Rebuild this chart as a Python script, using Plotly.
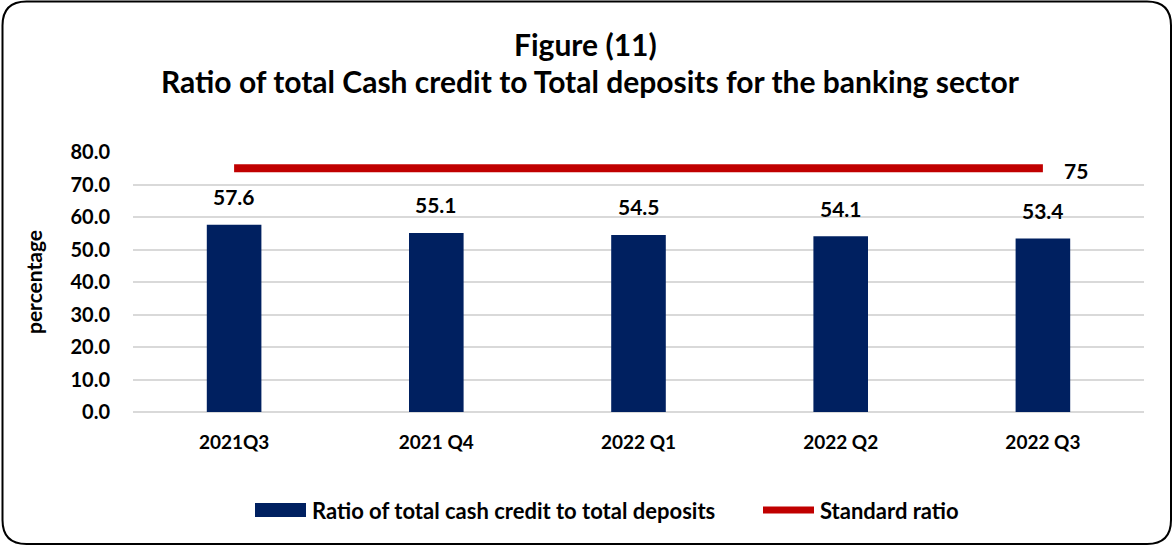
import plotly.graph_objects as go

# Quarterly ratio of cash credit to deposits, with the standard ratio line
quarters = ["2021Q3", "2021 Q4", "2022 Q1", "2022 Q2", "2022 Q3"]
ratio_values = [57.6, 55.1, 54.5, 54.1, 53.4]
standard_ratio = [75, 75, 75, 75, 75]
y_ticks = [0, 10, 20, 30, 40, 50, 60, 70, 80]

title_line1 = "Figure (11)"
title_line2 = "Ratio of total Cash credit to Total deposits for the banking sector"
bar_name = "Ratio of total cash credit to total deposits"
line_name = "Standard ratio"

NAVY = "#002060"
RED = "#C00000"
FONT = "Lato, 'Open Sans', sans-serif"

W, H = 1174, 546
ML, MR, MT, MB = 133, 30, 152, 134
PW, PH = W - ML - MR, H - MT - MB


def px(x):
    return (x - ML) / PW


def py(y):
    return (H - MB - y) / PH


fig = go.Figure()
fig.add_trace(go.Bar(
    x=quarters, y=ratio_values, name=bar_name,
    marker=dict(color=NAVY, line=dict(width=0)),
    width=0.27, showlegend=False,
))
fig.add_trace(go.Scatter(
    x=quarters, y=standard_ratio, name=line_name, mode="lines",
    line=dict(color=RED, width=8), showlegend=False,
))

annotations = []
for q, v in zip(quarters, ratio_values):
    annotations.append(dict(
        x=q, y=v, text=f"{v:.1f}", showarrow=False, yshift=28,
        font=dict(family=FONT, size=21, color="#000000", weight="bold"),
    ))
annotations.append(dict(
    x=quarters[-1], y=standard_ratio[-1], text=f"{standard_ratio[-1]}",
    showarrow=False, xshift=33, yshift=-2,
    font=dict(family=FONT, size=21, color="#000000", weight="bold"),
))

# Title lines
annotations.append(dict(
    xref="paper", yref="paper", x=px(585), y=py(44), text=title_line1,
    showarrow=False, xanchor="center", yanchor="middle",
    font=dict(family=FONT, size=30, color="#000000", weight="bold"),
))
annotations.append(dict(
    xref="paper", yref="paper", x=px(590), y=py(81), text=title_line2,
    showarrow=False, xanchor="center", yanchor="middle",
    font=dict(family=FONT, size=30, color="#000000", weight="bold"),
))

# Legend drawn as shapes + labels
shapes = []
shapes.append(dict(type="rect", xref="paper", yref="paper",
                   x0=px(255), x1=px(306), y0=py(503), y1=py(517),
                   fillcolor=NAVY, line=dict(width=0)))
shapes.append(dict(type="line", xref="paper", yref="paper",
                   x0=px(763), x1=px(814), y0=py(510), y1=py(510),
                   line=dict(color=RED, width=7)))
annotations.append(dict(
    xref="paper", yref="paper", x=px(310), y=py(510), text=bar_name,
    showarrow=False, xanchor="left", yanchor="middle",
    font=dict(family=FONT, size=22, color="#000000", weight="bold"),
))
annotations.append(dict(
    xref="paper", yref="paper", x=px(818), y=py(510), text=line_name,
    showarrow=False, xanchor="left", yanchor="middle",
    font=dict(family=FONT, size=22, color="#000000", weight="bold"),
))

# Rounded outer frame
x0, x1, y0, y1, r = 2.5, 1171, 1.5, 544, 24
path = (
    f"M {px(x0 + r)},{py(y0)} L {px(x1 - r)},{py(y0)} "
    f"Q {px(x1)},{py(y0)} {px(x1)},{py(y0 + r)} "
    f"L {px(x1)},{py(y1 - r)} Q {px(x1)},{py(y1)} {px(x1 - r)},{py(y1)} "
    f"L {px(x0 + r)},{py(y1)} Q {px(x0)},{py(y1)} {px(x0)},{py(y1 - r)} "
    f"L {px(x0)},{py(y0 + r)} Q {px(x0)},{py(y0)} {px(x0 + r)},{py(y0)} Z"
)
shapes.append(dict(type="path", xref="paper", yref="paper", path=path,
                   line=dict(color="#000000", width=2), layer="above"))

fig.update_layout(
    width=W, height=H,
    margin=dict(l=ML, r=MR, t=MT, b=MB),
    paper_bgcolor="white", plot_bgcolor="white",
    showlegend=False,
    font=dict(family=FONT, color="#000000"),
    xaxis=dict(
        type="category", showgrid=False, zeroline=False, showline=False,
        ticks="", tickfont=dict(family=FONT, size=19, weight="bold"),
        ticklabelstandoff=17,
    ),
    yaxis=dict(
        range=[0, 80], tickvals=y_ticks,
        ticktext=[f"{t:.1f}" for t in y_ticks],
        showgrid=True, gridcolor="#D9D9D9", gridwidth=1.5,
        zeroline=True, zerolinecolor="#D9D9D9", zerolinewidth=1.5,
        showline=False, ticks="", ticklabelstandoff=22,
        tickfont=dict(family=FONT, size=20, weight="bold"),
        title=dict(text="percentage", standoff=22,
                   font=dict(family=FONT, size=21, weight="bold")),
    ),
    annotations=annotations,
    shapes=shapes,
)

fig.write_html("out.html")
